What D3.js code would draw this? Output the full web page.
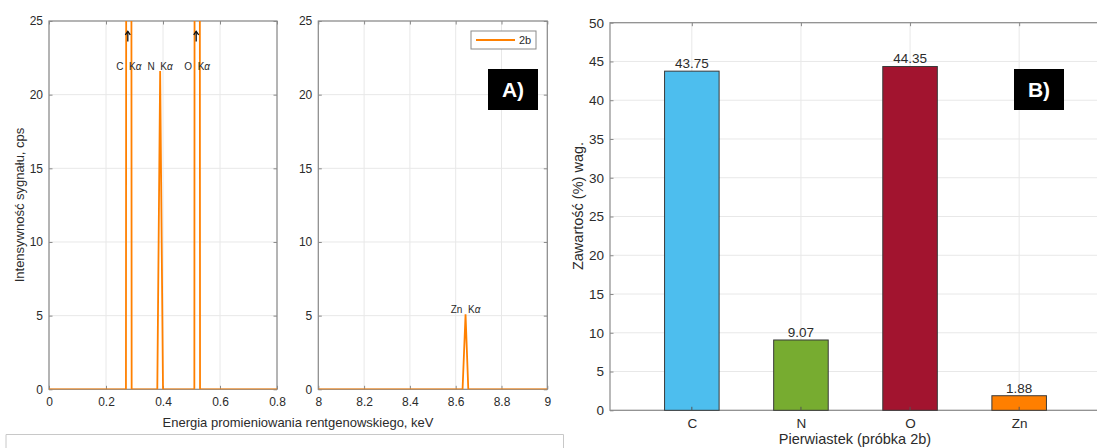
<!DOCTYPE html>
<html>
<head>
<meta charset="utf-8">
<script src="https://cdn.jsdelivr.net/npm/d3@7"></script>
<style>
  html, body { margin: 0; padding: 0; background: #fff; }
  svg { display: block; font-family: "Liberation Sans", Arial, Helvetica, sans-serif; }
</style>
</head>
<body>
<svg id="chart" width="1097" height="448"></svg>
<script>
// EDS spectrum, low-energy window (keV / cps)
const energyLow = [0, 0.27, 0.28, 0.29, 0.38, 0.39, 0.40, 0.51, 0.52, 0.53, 0.8];
const countsLow = [0, 0, 320, 0, 0, 21.6, 0, 0, 350, 0, 0];
// EDS spectrum, high-energy window (keV / cps)
const energyHigh = [8, 8.63, 8.643, 8.655, 9];
const countsHigh = [0, 0, 5.1, 0, 0];

// characteristic line labels
const lowLineNames = ["C", "N", "O"];
const lowLineEnergies = [0.28, 0.39, 0.52];
const lowLineLabelY = [21.6, 21.6, 21.6];
const lowLineOffScale = [true, false, true];
const highLineNames = ["Zn"];
const highLineEnergies = [8.643];
const highLineLabelY = [5.1];

// tick labels
const yTicksA = [0, 5, 10, 15, 20, 25];
const xTicksLow = [0, 0.2, 0.4, 0.6, 0.8];
const xTicksHigh = [8, 8.2, 8.4, 8.6, 8.8, 9];
const yTicksB = [0, 5, 10, 15, 20, 25, 30, 35, 40, 45, 50];

// elemental composition (wt%)
const elements = ["C", "N", "O", "Zn"];
const weights = [43.75, 9.07, 44.35, 1.88];
const barColors = ["#4DBEEE", "#77AC30", "#A2142F", "#FF7F00"];

const svg = d3.select("#chart");
const TEXT = "#2b2b2b", AXIS = "#8a8a8a", GRID = "#e8e8e8", LINE = "#FF8000";

const yA = d3.scaleLinear().domain([0, 25]).range([389.3, 21]);
const xLow = d3.scaleLinear().domain([0, 0.8]).range([49, 277]);
const xHigh = d3.scaleLinear().domain([8, 9]).range([318.3, 547.3]);
const xB = d3.scaleLinear().domain([0.25, 4.75]).range([610, 1101]);
const yB = d3.scaleLinear().domain([0, 50]).range([410.3, 22.7]);

svg.append("defs").append("clipPath").attr("id", "clipLow")
  .append("rect").attr("x", xLow(0)).attr("y", yA(25)).attr("width", xLow(0.8) - xLow(0)).attr("height", yA(0) - yA(25));
svg.select("defs").append("clipPath").attr("id", "clipHigh")
  .append("rect").attr("x", xHigh(8)).attr("y", yA(25)).attr("width", xHigh(9) - xHigh(8)).attr("height", yA(0) - yA(25));

// draws grid, frame, inside ticks and tick labels of one axes box
function frame(x, y, xt, yt, opts) {
  const g = svg.append("g");
  const [x0, x1] = x.range(), [y0, y1] = y.range();
  // grid
  g.append("g").selectAll("line").data(xt).join("line")
    .attr("x1", d => x(d)).attr("x2", d => x(d)).attr("y1", y0).attr("y2", y1)
    .attr("stroke", GRID).attr("stroke-width", 1);
  g.append("g").selectAll("line").data(yt).join("line")
    .attr("x1", x0).attr("x2", x1).attr("y1", d => y(d)).attr("y2", d => y(d))
    .attr("stroke", GRID).attr("stroke-width", 1);
  const tl = 3.5;
  // axis generators for ticks on all four sides
  const bottom = d3.axisBottom(x).tickValues(xt).tickSizeInner(-tl).tickSizeOuter(0)
    .tickFormat(opts.xFormat || (d => d)).tickPadding(8);
  const top = d3.axisTop(x).tickValues(xt).tickSizeInner(-tl).tickSizeOuter(0).tickFormat("");
  const left = d3.axisLeft(y).tickValues(yt).tickSizeInner(-tl).tickSizeOuter(0)
    .tickFormat(d => d).tickPadding(6);
  const right = d3.axisRight(y).tickValues(yt).tickSizeInner(-tl).tickSizeOuter(0).tickFormat("");
  const parts = [
    [bottom, `translate(0,${y0})`],
    [top, `translate(0,${y1})`],
    [left, `translate(${x0},0)`],
    [right, `translate(${x1},0)`]
  ];
  parts.forEach(([ax, tr]) => {
    const a = g.append("g").attr("transform", tr).call(ax);
    a.select(".domain").remove();
    a.selectAll(".tick line").attr("stroke", AXIS).attr("stroke-width", 1);
    a.selectAll(".tick text").attr("fill", TEXT).attr("font-size", opts.tickSize)
      .attr("font-family", "Liberation Sans, Arial, sans-serif");
  });
  g.append("rect").attr("x", x0).attr("y", y1).attr("width", x1 - x0).attr("height", y0 - y1)
    .attr("fill", "none").attr("stroke", AXIS).attr("stroke-width", 1.2);
  return g;
}

// ---------- Panel A: spectrum ----------
frame(xLow, yA, xTicksLow, yTicksA, { tickSize: 12, xFormat: d => d });
frame(xHigh, yA, xTicksHigh, yTicksA, { tickSize: 12, xFormat: d => d });

const lineLow = d3.line().x((d, i) => xLow(energyLow[i])).y(d => yA(d));
const lineHigh = d3.line().x((d, i) => xHigh(energyHigh[i])).y(d => yA(d));
svg.append("path").datum(countsLow).attr("d", lineLow).attr("clip-path", "url(#clipLow)")
  .attr("fill", "none").attr("stroke", LINE).attr("stroke-width", 1.8);
svg.append("path").datum(countsHigh).attr("d", lineHigh).attr("clip-path", "url(#clipHigh)")
  .attr("fill", "none").attr("stroke", LINE).attr("stroke-width", 1.8);

function lineLabel(xs, name, e, yv) {
  const t = svg.append("text").attr("x", xs(e)).attr("y", yA(yv) - 1.5)
    .attr("text-anchor", "middle").attr("font-size", 10).attr("fill", TEXT)
    .attr("xml:space", "preserve");
  t.append("tspan").text(name + "  K");
  t.append("tspan").attr("font-style", "italic").text("α");
}
lowLineNames.forEach((n, i) => lineLabel(xLow, n, lowLineEnergies[i], lowLineLabelY[i]));
highLineNames.forEach((n, i) => lineLabel(xHigh, n, highLineEnergies[i], highLineLabelY[i]));

// arrows marking peaks that run off the top of the axes
lowLineEnergies.forEach((e, i) => {
  if (!lowLineOffScale[i]) return;
  const ax = xLow(e) - 1, yTop = yA(24.3), yBot = yA(23.6);
  svg.append("line").attr("x1", ax).attr("x2", ax).attr("y1", yTop).attr("y2", yBot)
    .attr("stroke", "#111").attr("stroke-width", 1.3);
  svg.append("path").attr("d", `M${ax - 2.5},${yTop + 3.5}L${ax},${yTop}L${ax + 2.5},${yTop + 3.5}`)
    .attr("fill", "none").attr("stroke", "#111").attr("stroke-width", 1.3);
});

// legend
const lg = svg.append("g");
lg.append("rect").attr("x", 471).attr("y", 31).attr("width", 65).attr("height", 18)
  .attr("fill", "#fff").attr("stroke", AXIS).attr("stroke-width", 1);
lg.append("line").attr("x1", 476).attr("x2", 515).attr("y1", 40).attr("y2", 40)
  .attr("stroke", LINE).attr("stroke-width", 1.8);
lg.append("text").attr("x", 525).attr("y", 44).attr("text-anchor", "middle")
  .attr("font-size", 11).attr("fill", TEXT).text("2b");

// axis titles
svg.append("text").attr("transform", "translate(24,205) rotate(-90)").attr("text-anchor", "middle")
  .attr("font-size", 13).attr("fill", TEXT).text("Intensywność sygnału, cps");
svg.append("text").attr("x", 298).attr("y", 427).attr("text-anchor", "middle")
  .attr("font-size", 13).attr("fill", TEXT).text("Energia promieniowania rentgenowskiego, keV");

// panel tag
function tag(x, y, label) {
  svg.append("rect").attr("x", x).attr("y", y).attr("width", 50).attr("height", 41).attr("fill", "#000");
  svg.append("text").attr("x", x + 25).attr("y", y + 28).attr("text-anchor", "middle")
    .attr("font-size", 21).attr("font-weight", "bold").attr("fill", "#fff").text(label);
}
tag(488, 69, "A)");

// frame around lower caption area
svg.append("path").attr("d", "M6,449V434.5H563.5V449").attr("fill", "none").attr("stroke", "#c8c8c8").attr("stroke-width", 1);

// ---------- Panel B: composition ----------
const catPos = elements.map((d, i) => i + 1);
frame(xB, yB, catPos, yTicksB, { tickSize: 13.5, xFormat: d => elements[d - 1] });

const bars = svg.append("g");
bars.selectAll("rect").data(weights).join("rect")
  .attr("x", (d, i) => xB(catPos[i] - 0.25)).attr("width", (d, i) => xB(catPos[i] + 0.25) - xB(catPos[i] - 0.25))
  .attr("y", d => yB(d)).attr("height", d => yB(0) - yB(d))
  .attr("fill", (d, i) => barColors[i]).attr("stroke", "#3a3a3a").attr("stroke-width", 1);
// bottom ticks drawn over the bars
bars.selectAll("line").data(catPos).join("line")
  .attr("x1", d => xB(d)).attr("x2", d => xB(d)).attr("y1", yB(0)).attr("y2", yB(0) - 3.5)
  .attr("stroke", "#555").attr("stroke-width", 1);
bars.selectAll("text").data(weights).join("text")
  .attr("x", (d, i) => xB(catPos[i])).attr("y", d => yB(d) - 3)
  .attr("text-anchor", "middle").attr("font-size", 13.5).attr("fill", TEXT)
  .text(d => d.toFixed(2));

svg.append("text").attr("transform", "translate(583,206) rotate(-90)").attr("text-anchor", "middle")
  .attr("font-size", 14.5).attr("fill", TEXT).text("Zawartość (%) wag.");
svg.append("text").attr("x", 855).attr("y", 444).attr("text-anchor", "middle")
  .attr("font-size", 14.5).attr("fill", TEXT).text("Pierwiastek (próbka 2b)");

tag(1014, 69, "B)");
</script>
</body>
</html>
